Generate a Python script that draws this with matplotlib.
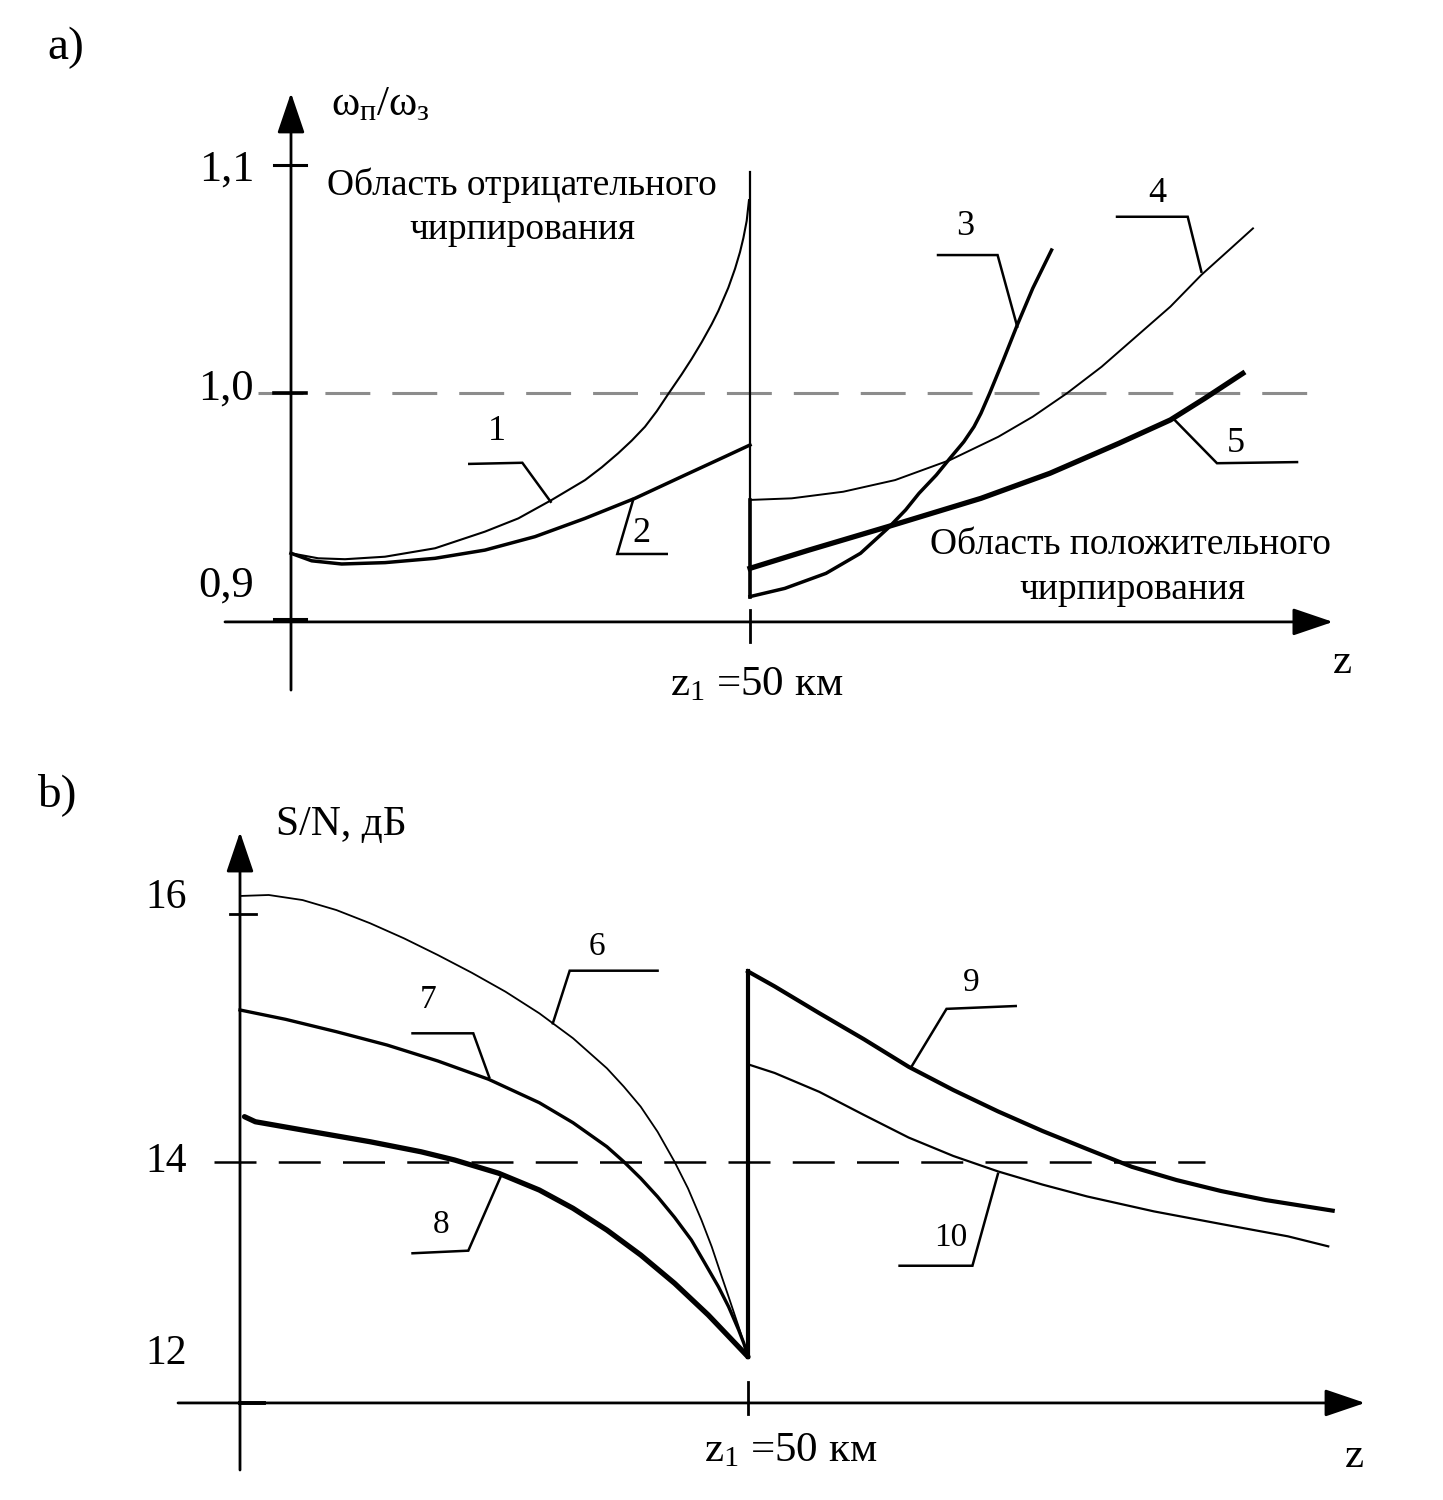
import matplotlib
matplotlib.use("Agg")
import matplotlib.pyplot as plt

plt.rcParams["font.family"] = ["Liberation Serif", "DejaVu Serif"]
plt.rcParams["mathtext.fontset"] = "custom"
plt.rcParams["mathtext.rm"] = "Liberation Serif"
plt.rcParams["mathtext.it"] = "Liberation Serif"
plt.rcParams["mathtext.bf"] = "Liberation Serif:bold"

# ---------------- panel a): omega_p / omega_z vs z (km) ----------------
z_c1 = [0.0, 2.97, 5.88, 10.24, 15.69, 21.13, 24.76, 28.40, 32.03, 33.85, 35.65,
        37.11, 38.56, 39.84, 41.10, 42.56, 43.65, 44.74, 45.83, 46.55, 47.64,
        48.37, 48.91, 49.28, 49.64, 49.89]
w_c1 = [0.9297, 0.9275, 0.9271, 0.9282, 0.9319, 0.9392, 0.9450, 0.9531, 0.9618,
        0.9674, 0.9736, 0.9791, 0.9852, 0.9920, 0.9996, 1.0082, 1.0150, 1.0223,
        1.0302, 1.0360, 1.0462, 1.0545, 1.0618, 1.0680, 1.0755, 1.0846]

z_c2 = [0.0, 2.25, 5.52, 10.24, 15.69, 21.13, 26.58, 32.03, 37.47, 42.92, 47.28, 50.0]
w_c2 = [0.9297, 0.9264, 0.9250, 0.9256, 0.9275, 0.9311, 0.9370, 0.9450, 0.9538,
        0.9640, 0.9721, 0.9772]

z_c3 = [50.0, 53.79, 58.28, 62.04, 65.03, 66.95, 68.41, 70.29, 71.79, 73.29,
        74.40, 75.16, 76.11, 77.60, 79.11, 80.80, 82.85]
w_c3 = [0.9107, 0.9143, 0.9209, 0.9297, 0.9407, 0.9487, 0.9560, 0.9640, 0.9714,
        0.9786, 0.9852, 0.9911, 0.9999, 1.0145, 1.0298, 1.0459, 1.0627]

z_c4 = [50.0, 54.54, 60.16, 65.80, 71.79, 77.05, 80.80, 84.53, 88.30, 92.05,
        95.80, 99.17, 102.18, 104.79]
w_c4 = [0.9531, 0.9538, 0.9567, 0.9618, 0.9706, 0.9808, 0.9896, 0.9999, 1.0115,
        1.0247, 1.0379, 1.0518, 1.0627, 1.0722]

z_c5 = [50.0, 56.42, 65.03, 75.16, 82.68, 90.17, 95.80, 99.56, 103.68]
w_c5 = [0.9231, 0.9311, 0.9414, 0.9538, 0.9648, 0.9779, 0.9882, 0.9977, 1.0086]

z_jump = 50.0
w_jump = [0.9107, 1.0969]
w_ticks = [0.9, 1.0, 1.1]
w_tick_labels = ["0,9", "1,0", "1,1"]
w_label_y = [0.9154, 1.0018, 1.0982]   # printed a little off the ticks

# ---------------- panel b): S/N (dB) vs z (km) ----------------
z_c6 = [0.0, 2.83, 6.16, 9.49, 12.81, 16.14, 19.47, 22.80, 26.13, 29.46, 32.78,
        36.11, 37.78, 39.44, 41.10, 42.77, 44.09, 45.42, 46.43, 47.42, 48.09,
        49.08, 49.59, 50.0]
s_c6 = [16.154, 16.162, 16.121, 16.040, 15.933, 15.811, 15.676, 15.533, 15.379,
        15.204, 15.002, 14.759, 14.610, 14.448, 14.245, 14.002, 13.787, 13.530,
        13.314, 13.071, 12.909, 12.666, 12.532, 12.423]

z_c7 = [0.0, 4.50, 9.49, 14.48, 19.47, 24.46, 29.46, 32.78, 36.11, 37.78, 39.44,
        41.10, 42.77, 44.43, 45.76, 47.09, 48.09, 49.08, 49.59, 50.0]
s_c7 = [15.231, 15.155, 15.055, 14.947, 14.818, 14.670, 14.480, 14.318, 14.124,
        14.002, 13.868, 13.719, 13.552, 13.368, 13.180, 12.990, 12.828, 12.640,
        12.532, 12.423]

z_c8 = [0.44, 1.51, 6.16, 12.81, 17.81, 21.13, 25.46, 29.46, 32.78, 36.11, 39.44,
        42.77, 46.09, 48.43, 50.0]
s_c8 = [14.367, 14.326, 14.259, 14.164, 14.083, 14.016, 13.909, 13.773, 13.625,
        13.449, 13.247, 13.018, 12.761, 12.559, 12.423]

z_c9 = [50.0, 52.62, 57.02, 61.41, 65.81, 70.20, 74.60, 78.99, 83.38, 87.78,
        92.17, 96.56, 100.95, 107.55]
s_c9 = [15.543, 15.422, 15.205, 14.994, 14.771, 14.583, 14.410, 14.251, 14.105,
        13.961, 13.854, 13.765, 13.692, 13.606]

z_c10 = [50.0, 52.62, 57.02, 61.41, 65.81, 70.20, 74.60, 78.99, 83.38, 89.96,
         96.56, 103.15, 107.11]
s_c10 = [14.791, 14.721, 14.568, 14.381, 14.198, 14.049, 13.924, 13.817, 13.721,
         13.600, 13.498, 13.398, 13.317]

s_jump = [12.423, 15.547]
s_tick_labels = ["12", "14", "16"]
s_label_y = [12.445, 14.0, 16.138]
s_threshold = 14.0

# curve number labels: (leader x, leader y, text position)
leaders_a = {
    "1": ([19.42, 25.20, 28.29], [0.9689, 0.9694, 0.9523], (22.41, 0.983)),
    "2": ([37.29, 35.54, 40.93], [0.9534, 0.9294, 0.9294], (38.2, 0.9385)),
    "3": ([70.48, 76.97, 79.11], [1.0605, 1.0605, 1.0291], (73.47, 1.0729)),
    "4": ([89.98, 97.68, 99.17], [1.0773, 1.0773, 1.0532], (94.34, 1.0877)),
    "5": ([96.25, 100.87, 109.59], [0.9882, 0.9692, 0.9697], (102.94, 0.978)),
}
leaders_b = {
    "6": ([30.79, 32.45, 41.10], [15.123, 15.549, 15.549], (35.11, 15.743)),
    "7": ([24.53, 22.96, 16.98], [14.686, 15.042, 15.042], (18.54, 15.312)),
    "8": ([25.63, 22.47, 16.98], [13.876, 13.282, 13.261], (19.80, 13.490)),
    "9": ([66.02, 69.54, 76.35], [14.762, 15.240, 15.263], (71.95, 15.450)),
    "10": ([74.60, 72.09, 64.92], [13.904, 13.160, 13.160], (69.98, 13.385)),
}

W, H = 1443, 1500
fig = plt.figure(figsize=(W / 100, H / 100), dpi=100)

# both panels share the full canvas, each with its own data scale
ox_a, oy_a, kx_a, ky_a = 291, 393, 9.18, 2280.0     # px of (0, 1.0), px per unit
ox_b, oy_b, kx_b, ky_b = 240, 1162, 10.16, 123.5    # px of (0, 14), px per unit

ax_a = fig.add_axes([0, 0, 1, 1])
ax_a.set_xlim(-ox_a / kx_a, (W - ox_a) / kx_a)
ax_a.set_ylim(1.0 - (H - oy_a) / ky_a, 1.0 + oy_a / ky_a)
ax_a.axis("off")

ax_b = fig.add_axes([0, 0, 1, 1])
ax_b.set_xlim(-ox_b / kx_b, (W - ox_b) / kx_b)
ax_b.set_ylim(14.0 - (H - oy_b) / ky_b, 14.0 + oy_b / ky_b)
ax_b.axis("off")
ax_b.patch.set_alpha(0)

K = "black"
arrow_kw = dict(arrowstyle="-|>,head_length=25,head_width=8.5", mutation_scale=1,
                shrinkA=0, shrinkB=0, lw=2.0, color=K)


def axes_frame(ax, x_axis_y, x_from, x_to, y_from, y_to):
    ax.annotate("", xy=(x_to, x_axis_y), xytext=(x_from, x_axis_y), arrowprops=arrow_kw)
    ax.annotate("", xy=(0, y_to), xytext=(0, y_from), arrowprops=arrow_kw)


def draw_leaders(ax, leaders, size):
    for name, (lx, ly, pos) in leaders.items():
        ax.plot(lx, ly, color=K, lw=1.8, solid_joinstyle="miter")
        ax.text(pos[0], pos[1], name, fontsize=size, ha="center", va="center")


# ---- panel a
axes_frame(ax_a, 0.8996, -7.19, 113.5, 0.8697, 1.1316)
ax_a.plot([-3.6, 112.3], [1.0, 1.0], color="#8c8c8c", lw=2.2, dashes=(14.7, 7.2))
for t in w_ticks:
    ty = t + 0.0009 if t == 0.9 else t
    ax_a.plot([-1.85, 1.6], [ty, ty], color=K, lw=2.6 if t == 1.0 else 2.2)
for ly, lab in zip(w_label_y, w_tick_labels):
    ax_a.text(-4.03, ly, lab, fontsize=32, ha="right", va="center")
ax_a.plot([z_jump, z_jump], [0.8908, 0.9048], color=K, lw=2.0)

ax_a.plot([z_jump, z_jump], w_jump, color=K, lw=1.6)
ax_a.plot([z_jump, z_jump], [w_c3[0], w_c4[0]], color=K, lw=2.6)
ax_a.plot(z_c1, w_c1, color=K, lw=1.5)
ax_a.plot(z_c2, w_c2, color=K, lw=2.5)
ax_a.plot(z_c3, w_c3, color=K, lw=2.5)
ax_a.plot(z_c4, w_c4, color=K, lw=1.4)
ax_a.plot(z_c5, w_c5, color=K, lw=3.8)
draw_leaders(ax_a, leaders_a, 26)

ax_a.text(-24.5, 1.1513, "a)", fontsize=34, ha="center", va="center")
ax_a.text(9.69, 1.1263, r"$\omega_{\mathrm{п}}/\omega_{\mathrm{з}}$", fontsize=31,
          ha="center", va="center")
ax_a.text(25.11, 1.0912, "Область отрицательного", fontsize=27, ha="center", va="center")
ax_a.text(25.22, 1.0715, "чирпирования", fontsize=27, ha="center", va="center")
ax_a.text(91.39, 0.9333, "Область положительного", fontsize=27, ha="center", va="center")
ax_a.text(91.61, 0.9136, "чирпирования", fontsize=27, ha="center", va="center")
ax_a.text(50.76, 0.8719, r"z$_1$ =50 км", fontsize=31, ha="center", va="center")
ax_a.text(114.49, 0.8816, "z", fontsize=31, ha="center", va="center")

# ---- panel b
axes_frame(ax_b, 12.049, -6.10, 110.73, 11.506, 16.672)
ax_b.plot([-2.56, 94.98], [s_threshold, s_threshold], color=K, lw=1.8, dashes=(16.8, 8.9))
ax_b.plot([-1.03, 1.57], [16.008, 16.008], color=K, lw=2.0)
ax_b.plot([0, 2.4], [12.049, 12.049], color=K, lw=2.8)
for ly, lab in zip(s_label_y, s_tick_labels):
    ax_b.text(-5.25, ly, lab, fontsize=30, ha="right", va="center")
ax_b.plot([z_jump, z_jump], [11.96, 12.219], color=K, lw=2.0)

ax_b.plot(z_c6, s_c6, color=K, lw=1.3)
ax_b.plot(z_c7, s_c7, color=K, lw=2.4)
ax_b.plot(z_c8, s_c8, color=K, lw=3.8, solid_capstyle="round")
ax_b.plot([z_jump, z_jump], s_jump, color=K, lw=3.0)
ax_b.plot(z_c9, s_c9, color=K, lw=3.0)
ax_b.plot(z_c10, s_c10, color=K, lw=1.6)
draw_leaders(ax_b, leaders_b, 24)

ax_b.text(-18.0, 16.972, "b)", fontsize=34, ha="center", va="center")
ax_b.text(9.94, 16.729, "S/N, дБ", fontsize=30, ha="center", va="center")
ax_b.text(54.23, 11.660, r"z$_1$ =50 км", fontsize=31, ha="center", va="center")
ax_b.text(109.65, 11.611, "z", fontsize=31, ha="center", va="center")

fig.savefig("out.png", dpi=100, facecolor="white")
